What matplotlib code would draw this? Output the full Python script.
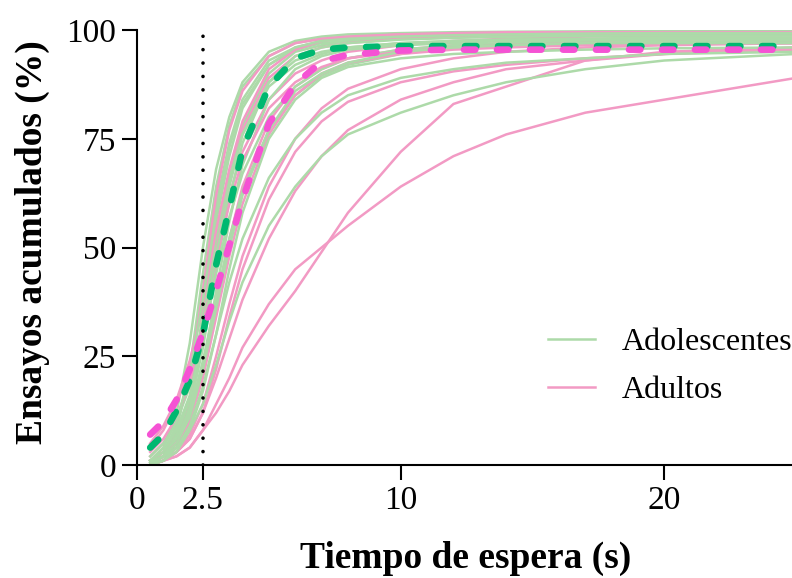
import matplotlib
matplotlib.use("Agg")
import matplotlib.pyplot as plt
import numpy as np

plt.rcParams['font.family'] = ['Liberation Serif', 'DejaVu Serif']

# common time grid (s)
t = [0.5, 1, 1.5, 2, 2.5, 3, 3.5, 4, 5, 6, 7, 8, 10, 12, 14, 17, 20, 25]

# individual subjects, cumulative trials (%)
adolescentes = [
    [1, 4, 12, 28, 50, 68, 80, 88, 95, 97.5, 98.5, 99, 99.3, 99.5, 99.6, 99.7, 99.8, 99.8],
    [0, 2, 8, 22, 44, 64, 78, 87, 94, 97, 98, 98.5, 99, 99.2, 99.3, 99.5, 99.5, 99.5],
    [0.5, 3, 9, 20, 40, 60, 74, 84, 93, 96, 97.5, 98, 98.5, 98.8, 99, 99, 99.2, 99.2],
    [0, 1, 5, 15, 35, 56, 71, 82, 92, 95.5, 97, 97.5, 98, 98.3, 98.5, 98.7, 98.8, 98.8],
    [1, 3, 7, 14, 30, 50, 66, 78, 90, 95, 96.5, 97.5, 98, 98.5, 98.6, 98.8, 99, 99],
    [0, 2, 6, 13, 27, 45, 61, 74, 88, 94, 96, 97, 97.8, 98.2, 98.5, 98.7, 98.8, 98.8],
    [2, 5, 10, 18, 33, 52, 66, 76, 87, 92, 94.5, 96, 97, 97.5, 97.8, 98, 98.3, 98.3],
    [0, 1, 4, 10, 22, 40, 56, 69, 84, 91, 94, 95.5, 96.5, 97, 97.5, 97.8, 98, 98],
    [1, 3, 8, 16, 29, 44, 57, 67, 80, 87, 91, 93.5, 95.5, 96.5, 97, 97.5, 97.8, 98],
    [0, 2, 6, 12, 24, 38, 52, 63, 77, 85, 89.5, 92, 94.5, 96, 96.5, 97, 97.3, 97.5],
    [0.5, 2, 5, 11, 22, 36, 50, 62, 77, 86, 90, 92.5, 95, 96, 96.5, 97, 97, 97],
    [0, 1, 4, 9, 18, 30, 42, 52, 66, 75, 81, 85, 89, 91, 92.5, 93.5, 94.5, 95],
    [1, 2, 4, 8, 14, 23, 33, 42, 55, 64, 71, 76, 81, 85, 88, 91, 93, 94.5],
    [0, 2, 7, 15, 30, 48, 64, 76, 88, 93, 95, 96, 97, 97.5, 97.8, 98, 98, 98],
    [0, 1, 3, 8, 17, 30, 45, 58, 75, 84, 89, 91.5, 93.5, 94.5, 95, 95.5, 95.8, 96],
    [1, 4, 10, 21, 38, 58, 73, 83, 92, 96, 97.5, 98, 98.5, 98.8, 99, 99.2, 99.3, 99.3],
]

adultos = [
    [0, 1, 2, 4, 8, 14, 20, 27, 37, 45, 50, 55, 64, 71, 76, 81, 84, 89],
    [0, 1, 2, 4, 8, 12, 17, 23, 32, 40, 49, 58, 72, 83, 87, 93, 95, 96],
    [5, 9, 15, 24, 36, 50, 62, 72, 84, 90, 93, 95, 96.5, 97.5, 98, 98.5, 98.7, 98.8],
    [2, 5, 10, 20, 40, 62, 77, 86, 94, 97, 98, 98.5, 99, 99.2, 99.3, 99.4, 99.5, 99.5],
    [1, 3, 7, 15, 30, 50, 66, 77, 89, 94, 96, 97, 98, 98.5, 98.7, 99, 99, 99],
    [0, 2, 5, 11, 22, 37, 52, 64, 79, 87, 91, 93.5, 95.5, 96.5, 97, 97.5, 97.8, 98],
    [0, 1, 3, 7, 14, 25, 37, 48, 64, 75, 82, 86.5, 91, 93.5, 95, 96, 96.5, 97],
    [0, 1, 3, 6, 12, 20, 29, 38, 52, 63, 71, 77, 84, 88, 91, 93, 94.5, 96],
    [3, 6, 11, 19, 32, 47, 60, 70, 82, 88, 91.5, 93.5, 95, 96, 96.5, 97, 97, 97],
    [1, 2, 5, 10, 20, 34, 48, 60, 76, 85, 90, 92.5, 94.5, 95.5, 96, 96.5, 96.8, 97],
    [0, 1, 3, 6, 12, 22, 34, 45, 61, 72, 79, 83.5, 88, 90.5, 92, 93.5, 94.5, 95.5],
    [4, 8, 14, 23, 37, 54, 68, 79, 91, 95.5, 97.5, 98.3, 99, 99.3, 99.5, 99.5, 99.5, 99.5],
]

# group means
media_adolescentes = [4, 7, 12.5, 19.5, 30, 46, 59, 72.5, 87, 93.5, 95.5, 96, 96.3, 96.3, 96.3, 96.3, 96.3, 96.3]
media_adultos = [7, 10, 15, 22, 30.5, 40, 50.5, 61, 78.5, 87.5, 92.8, 94.3, 95.3, 95.5, 95.5, 95.5, 95.5, 95.5]

c_ado = '#ADDAA9'
c_adu = '#F29AC4'

fig = plt.figure(figsize=(7.92, 5.78), dpi=100)
ax = fig.add_axes([0.173, 0.1955, 0.829, 0.7525])

for i in range(max(len(adolescentes), len(adultos))):
    if i < len(adolescentes):
        ax.plot(t, adolescentes[i], color=c_ado, lw=1.8,
                label='Adolescentes' if i == 0 else None)
    if i < len(adultos):
        ax.plot(t, adultos[i], color=c_adu, lw=1.8,
                label='Adultos' if i == 0 else None)

ax.plot(t, media_adolescentes, color='#00B870', lw=4.8,
        dashes=(1.7, 3.25), dash_capstyle='round')
ax.plot(t, media_adultos, color='#F552D4', lw=4.8,
        dashes=(1.7, 3.25), dash_capstyle='round')

ax.plot([2.5, 2.5], [0, 100], color='black', lw=2.6,
        dashes=(0.01, 3.7), dash_capstyle='round')

ax.set_xlim(0, 24.9)
ax.set_ylim(0, 100)
ax.set_xticks([0, 2.5, 10, 20])
ax.set_xticklabels(['0', '2.5', '10', '20'])
ax.set_yticks([0, 25, 50, 75, 100])

for s in ['top', 'right']:
    ax.spines[s].set_visible(False)
for s in ['left', 'bottom']:
    ax.spines[s].set_linewidth(1.5)

ax.tick_params(axis='both', length=11, width=1.5, labelsize=24, pad=4)

ax.set_xlabel('Tiempo de espera (s)', fontsize=27, fontweight='bold', labelpad=18)
ax.set_ylabel('Ensayos acumulados (%)', fontsize=27, fontweight='bold')
ax.yaxis.set_label_coords(-0.133, 0.513)

ax.legend(loc='center left', bbox_to_anchor=(0.692, 0.3665), bbox_transform=fig.transFigure,
          frameon=False, fontsize=23, handlelength=1.47, handletextpad=0.85,
          labelspacing=0.575, borderpad=0, borderaxespad=0)

fig.savefig('out.png', dpi=100)
plt.close()
